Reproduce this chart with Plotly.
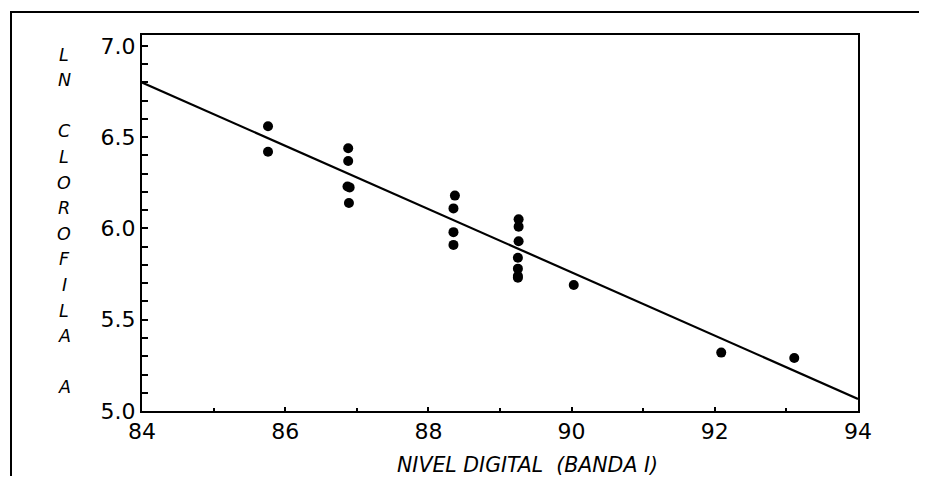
import plotly.graph_objects as go

# ---- data ----
nivel_digital = [85.76, 85.76,
                 86.88, 86.88, 86.87, 86.90, 86.89,
                 88.37, 88.35, 88.35, 88.35,
                 89.26, 89.26, 89.26, 89.25, 89.25, 89.25, 89.25,
                 90.03, 92.09, 93.11]
ln_clorofila = [6.56, 6.42,
                6.44, 6.37, 6.23, 6.225, 6.14,
                6.18, 6.11, 5.98, 5.91,
                6.05, 6.01, 5.93, 5.84, 5.78, 5.74, 5.73,
                5.69, 5.32, 5.29]
fit_x = [84, 94]
fit_y = [6.80, 5.066]
x_ticks = [84, 86, 88, 90, 92, 94]
y_ticks = [5.0, 5.5, 6.0, 6.5, 7.0]
y_title_letters = ["L", "N", "", "C", "L", "O", "R", "O", "F", "I", "L", "A", "", "A"]
x_title = "NIVEL DIGITAL\u00a0 (BANDA I)"

OFF = 8                      # default page body margin
W, H = 927 - OFF, 486 - OFF  # figure size that fits the window
# plot area in screen pixels: x 142..858, y 35..411
L, R, T, B = 142 - OFF, 927 - 858, 35 - OFF, 486 - 411
PW, PH = W - L - R, H - T - B


def px(xs):
    return (xs - OFF - L) / PW


def py(ys):
    return (H - B - (ys - OFF)) / PH


FONT = "DejaVu Sans, Arial, sans-serif"

fig = go.Figure()
fig.add_trace(go.Scatter(x=fit_x, y=fit_y, mode="lines",
                         line=dict(color="black", width=2.2),
                         hoverinfo="skip", showlegend=False))
fig.add_trace(go.Scatter(x=nivel_digital, y=ln_clorofila, mode="markers",
                         marker=dict(color="black", size=10, line=dict(width=0)),
                         showlegend=False))

axis_common = dict(showgrid=False, zeroline=False, showline=True,
                   linecolor="black", linewidth=2, mirror=True,
                   ticks="inside", tickcolor="black", tickwidth=1.5,
                   tickfont=dict(family=FONT, size=22, color="black"))

fig.update_xaxes(range=[84, 94], tickvals=x_ticks, ticklen=4,
                 minor=dict(dtick=1, ticks="inside", ticklen=3, tickcolor="black", tickwidth=1.5),
                 **axis_common)
fig.update_yaxes(range=[5.0, 7.06], tickvals=y_ticks, tickformat=".1f", ticklen=6,
                 minor=dict(dtick=0.1, ticks="inside", ticklen=6, tickcolor="black", tickwidth=1.5),
                 **axis_common)

annotations = []
for i, ch in enumerate(y_title_letters):
    if not ch:
        continue
    annotations.append(dict(text=ch, xref="paper", yref="paper",
                            x=px(64), y=py(54.5 + i * 25.6),
                            xanchor="center", yanchor="middle", showarrow=False,
                            font=dict(family=FONT, size=17.5, color="black", style="italic")))
annotations.append(dict(text=x_title, xref="paper", yref="paper",
                        x=px(527), y=py(465), xanchor="center", yanchor="middle",
                        showarrow=False,
                        font=dict(family=FONT, size=20.5, color="black", style="italic")))

shapes = [
    dict(type="line", xref="paper", yref="paper", x0=px(10), x1=px(927),
         y0=py(12), y1=py(12), line=dict(color="black", width=2)),
    dict(type="line", xref="paper", yref="paper", x0=px(11), x1=px(11),
         y0=py(12), y1=py(476), line=dict(color="black", width=2)),
]

fig.update_layout(width=W, height=H, margin=dict(l=L, r=R, t=T, b=B),
                  paper_bgcolor="white", plot_bgcolor="white",
                  annotations=annotations, shapes=shapes)

fig.write_html("out.html")
